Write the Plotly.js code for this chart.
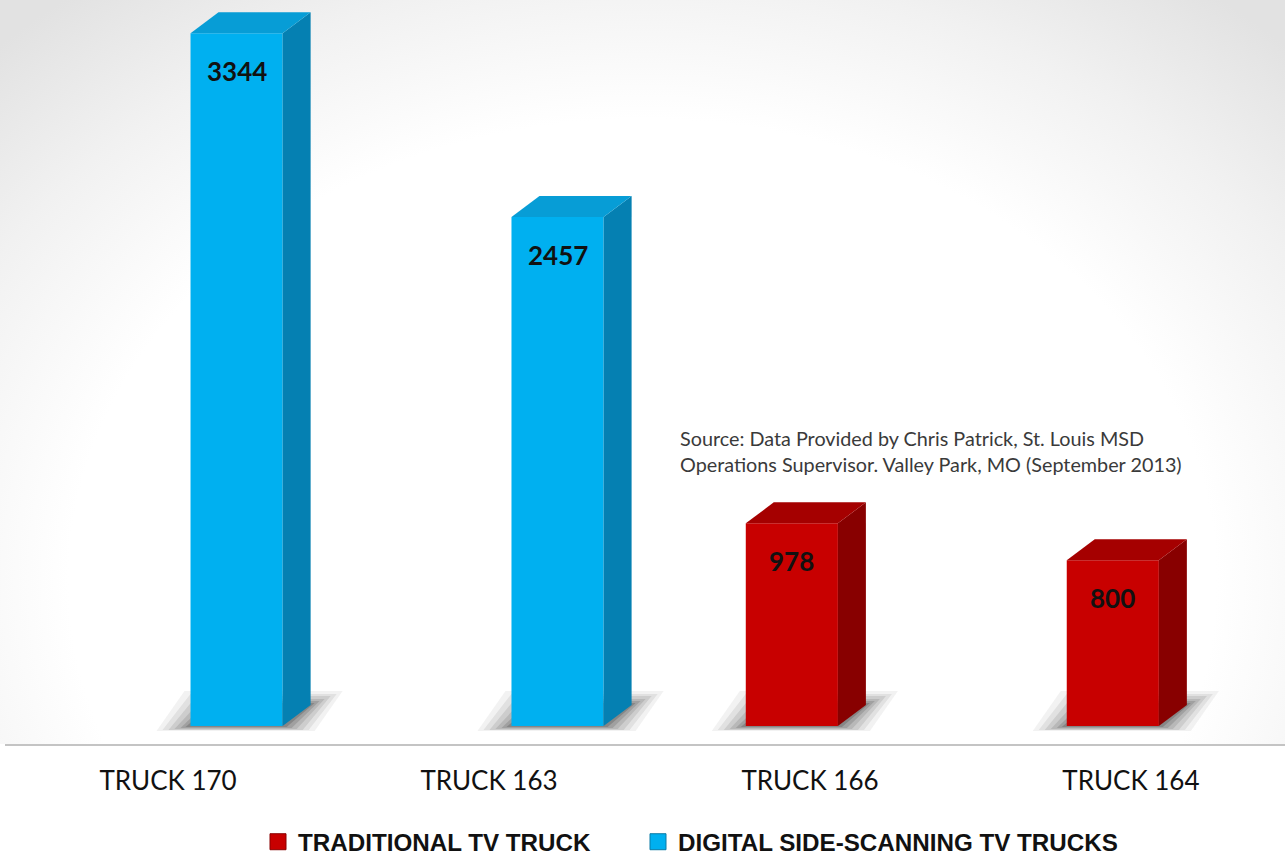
<!DOCTYPE html>
<html>
<head>
<meta charset="utf-8">
<script src="https://cdn.plot.ly/plotly-3.0.1.min.js"></script>
<style>
  html, body { margin: 0; padding: 0; background: #ffffff; }
  #wrap { position: relative; width: 1285px; height: 857px; overflow: hidden; }
  #bg { position: absolute; left: 0; top: 0; width: 1285px; height: 744px;
        background: radial-gradient(ellipse 72% 100% at 50% 78%, #ffffff 62%, #f1f1f1 82%, #e2e2e2 100%); }
  #chart { position: absolute; left: 0; top: 0; width: 1285px; height: 857px; }
</style>
</head>
<body>
<div id="wrap"><div id="bg"></div><div id="chart"></div></div>
<script>
// ---- data ----
const categories = ['TRUCK 170', 'TRUCK 163', 'TRUCK 166', 'TRUCK 164'];
const traditional = [0, 0, 978, 800];
const digital = [3344, 2457, 0, 0];
const seriesNames = ['TRADITIONAL TV TRUCK', 'DIGITAL SIDE-SCANNING TV TRUCKS'];
const sourceLines = ['Source: Data Provided by Chris Patrick, St. Louis MSD',
                     'Operations Supervisor. Valley Park, MO (September 2013)'];

// ---- layout geometry ----
const W = 1285, H = 857;
const margin = {l: 5, r: 0, t: 0, b: 113, autoexpand: false};
const xRange = [-0.508, 3.48];
const yRange = [-87, 3504];
const plotW = W - margin.l - margin.r, plotH = H - margin.t - margin.b;
const xPerPx = (xRange[1] - xRange[0]) / plotW;
const yPerPx = (yRange[1] - yRange[0]) / plotH;

const barWidth = 0.287;
const offsets = [-0.20, 0.07];
const depthDX = 28 * xPerPx, depthDY = 21 * yPerPx;

const styles = [
  {front: '#c80000', side: '#880000', top: '#a50000', edge: '#8a0000'},
  {front: '#00b0f0', side: '#0580b2', top: '#079dd6', edge: '#0a7aa6'}
];
const series = [traditional, digital];

const traces = [];
const shapes = [];
const annotations = [];

series.forEach((vals, s) => {
  traces.push({
    type: 'bar', name: seriesNames[s], x: categories.map((c, i) => i), y: vals,
    width: barWidth, offset: offsets[s],
    marker: {color: styles[s].front, line: {width: 0}},
    hoverinfo: 'skip', showlegend: false
  });
});

series.forEach((vals, s) => {
  vals.forEach((v, i) => {
    if (!v) return;
    const x0 = i + offsets[s], x1 = x0 + barWidth;
    // side face
    traces.push({
      type: 'scatter', mode: 'lines', fill: 'toself', showlegend: false, hoverinfo: 'skip',
      x: [x1, x1 + depthDX, x1 + depthDX, x1, x1],
      y: [0, depthDY, v + depthDY, v, 0],
      line: {width: 0}, fillcolor: styles[s].side
    });
    // top face
    traces.push({
      type: 'scatter', mode: 'lines', fill: 'toself', showlegend: false, hoverinfo: 'skip',
      x: [x0, x0 + depthDX, x1 + depthDX, x1, x0],
      y: [v, v + depthDY, v + depthDY, v, v],
      line: {width: 0}, fillcolor: styles[s].top
    });
    // soft shadow on the floor
    const layers = [[34, 32, 5, 14, 0.06], [28, 26, 4, 11, 0.08], [22, 20, 4, 9, 0.10],
                    [16, 14, 3, 6, 0.12], [10, 9, 2, 4, 0.15], [5, 4, 1, 2, 0.2]];
    layers.forEach(([el, er, ef, eb, op]) => {
      const L = x0 - el * xPerPx, R = x1 + er * xPerPx;
      const F = -ef * yPerPx, B = depthDY + eb * yPerPx;
      const path = `M${L},${F} L${R},${F} L${R + depthDX},${B} L${L + depthDX},${B} Z`;
      shapes.push({type: 'path', xref: 'x', yref: 'y', path: path, layer: 'below',
                   fillcolor: `rgba(30,30,30,${op})`, line: {width: 0}});
    });
    annotations.push({
      x: x0 + barWidth / 2, y: v, xref: 'x', yref: 'y', text: String(v),
      showarrow: false, yshift: -38, xanchor: 'center', yanchor: 'middle',
      font: {family: 'Lato', size: 26, color: '#111111', weight: 'bold'}
    });
  });
});

// legend entries (one legend box per series so each can sit where the reference has it)
const legendLefts = [258, 638];
series.forEach((vals, s) => {
  traces.push({
    type: 'scatter', mode: 'markers', name: seriesNames[s], x: [null], y: [null],
    marker: {symbol: 'square', size: 16, color: styles[s].front, line: {color: styles[s].edge, width: 1}},
    showlegend: true, legend: s === 0 ? 'legend' : 'legend2', hoverinfo: 'skip'
  });
});

annotations.push({
  xref: 'paper', yref: 'paper', x: (678 - margin.l) / plotW, y: 1 - (424 - margin.t) / plotH,
  xanchor: 'left', yanchor: 'top', align: 'left', showarrow: false,
  text: sourceLines.join('<br>'),
  font: {family: 'Lato', size: 19.8, color: '#3a3a3a'}
});

const legendFont = {family: 'Liberation Sans Narrow, Liberation Sans, sans-serif', size: 24.2, color: '#111111', weight: 'bold'};
const legendY = -(842 - plotH) / plotH;

const layout = {
  width: W, height: H, margin: margin,
  paper_bgcolor: 'rgba(0,0,0,0)', plot_bgcolor: 'rgba(0,0,0,0)',
  barmode: 'overlay',
  xaxis: {range: xRange, tickvals: categories.map((c, i) => i), ticktext: categories,
          showgrid: false, zeroline: false, showline: true, linecolor: '#c4c4c4', linewidth: 2,
          ticks: '', ticklabelstandoff: 13,
          tickfont: {family: 'Lato', size: 26, color: '#111111'}, fixedrange: true},
  yaxis: {range: yRange, visible: false, showgrid: false, zeroline: false, fixedrange: true},
  showlegend: true,
  legend: {orientation: 'h', x: (legendLefts[0] - margin.l) / plotW, xanchor: 'left', y: legendY, yanchor: 'middle',
           font: legendFont, bgcolor: 'rgba(0,0,0,0)'},
  legend2: {orientation: 'h', x: (legendLefts[1] - margin.l) / plotW, xanchor: 'left', y: legendY, yanchor: 'middle',
           font: legendFont, bgcolor: 'rgba(0,0,0,0)'},
  shapes: shapes, annotations: annotations
};

Plotly.newPlot('chart', traces, layout, {displayModeBar: false, staticPlot: true});
</script>
</body>
</html>
